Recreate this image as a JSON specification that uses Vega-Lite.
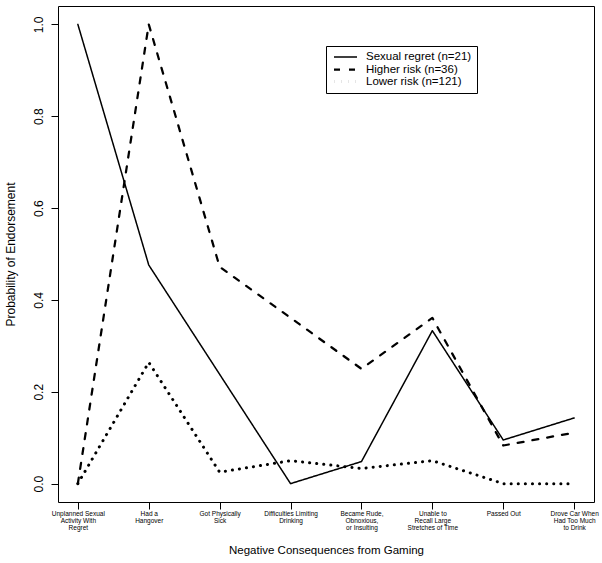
{
  "$schema": "https://vega.github.io/schema/vega-lite/v6.json",
  "width": 536,
  "height": 496,
  "autosize": "none",
  "padding": {"left": 58, "top": 6, "right": 8, "bottom": 61},
  "background": "white",
  "config": {
    "font": "Liberation Sans",
    "view": {"stroke": "black", "strokeWidth": 1}
  },
  "data": {
    "values": [
      {"item": "Unplanned Sexual|Activity With|Regret", "group": "Sexual regret (n=21)", "p": 1.0},
      {"item": "Had a|Hangover", "group": "Sexual regret (n=21)", "p": 0.476},
      {"item": "Got Physically|Sick", "group": "Sexual regret (n=21)", "p": 0.238},
      {"item": "Difficulties Limiting|Drinking", "group": "Sexual regret (n=21)", "p": 0.0},
      {"item": "Became Rude,|Obnoxious,|or Insulting", "group": "Sexual regret (n=21)", "p": 0.048},
      {"item": "Unable to|Recall Large|Stretches of Time", "group": "Sexual regret (n=21)", "p": 0.333},
      {"item": "Passed Out", "group": "Sexual regret (n=21)", "p": 0.095},
      {"item": "Drove Car When|Had Too Much|to Drink", "group": "Sexual regret (n=21)", "p": 0.143},
      {"item": "Unplanned Sexual|Activity With|Regret", "group": "Higher risk (n=36)", "p": 0.0},
      {"item": "Had a|Hangover", "group": "Higher risk (n=36)", "p": 1.0},
      {"item": "Got Physically|Sick", "group": "Higher risk (n=36)", "p": 0.472},
      {"item": "Difficulties Limiting|Drinking", "group": "Higher risk (n=36)", "p": 0.361},
      {"item": "Became Rude,|Obnoxious,|or Insulting", "group": "Higher risk (n=36)", "p": 0.25},
      {"item": "Unable to|Recall Large|Stretches of Time", "group": "Higher risk (n=36)", "p": 0.361},
      {"item": "Passed Out", "group": "Higher risk (n=36)", "p": 0.083},
      {"item": "Drove Car When|Had Too Much|to Drink", "group": "Higher risk (n=36)", "p": 0.111},
      {"item": "Unplanned Sexual|Activity With|Regret", "group": "Lower risk (n=121)", "p": 0.0},
      {"item": "Had a|Hangover", "group": "Lower risk (n=121)", "p": 0.264},
      {"item": "Got Physically|Sick", "group": "Lower risk (n=121)", "p": 0.025},
      {"item": "Difficulties Limiting|Drinking", "group": "Lower risk (n=121)", "p": 0.05},
      {"item": "Became Rude,|Obnoxious,|or Insulting", "group": "Lower risk (n=121)", "p": 0.033},
      {"item": "Unable to|Recall Large|Stretches of Time", "group": "Lower risk (n=121)", "p": 0.05},
      {"item": "Passed Out", "group": "Lower risk (n=121)", "p": 0.0},
      {"item": "Drove Car When|Had Too Much|to Drink", "group": "Lower risk (n=121)", "p": 0.0}
    ]
  },
  "mark": {"type": "line", "color": "black", "strokeCap": "round", "strokeJoin": "round"},
  "encoding": {
    "x": {
      "field": "item",
      "type": "nominal",
      "scale": {
        "type": "point",
        "padding": 0.28,
        "domain": [
          "Unplanned Sexual|Activity With|Regret",
          "Had a|Hangover",
          "Got Physically|Sick",
          "Difficulties Limiting|Drinking",
          "Became Rude,|Obnoxious,|or Insulting",
          "Unable to|Recall Large|Stretches of Time",
          "Passed Out",
          "Drove Car When|Had Too Much|to Drink"
        ]
      },
      "axis": {
        "title": "Negative Consequences from Gaming",
        "titleFontSize": 11.5,
        "titleFontWeight": "normal",
        "titleColor": "black",
        "titlePadding": 14,
        "labelExpr": "split(datum.label, '|')",
        "labelAngle": 0,
        "labelFontSize": 6.5,
        "labelLineHeight": 7,
        "labelColor": "black",
        "labelPadding": 1,
        "tickSize": 7,
        "tickColor": "black",
        "domain": false,
        "grid": false
      }
    },
    "y": {
      "field": "p",
      "type": "quantitative",
      "scale": {"domain": [-0.04, 1.04], "nice": false, "zero": false},
      "axis": {
        "title": "Probability of Endorsement",
        "titleFontSize": 12,
        "titleFontWeight": "normal",
        "titleColor": "black",
        "titlePadding": 15,
        "values": [0, 0.2, 0.4, 0.6, 0.8, 1.0],
        "format": ".1f",
        "labelAngle": -90,
        "labelAlign": "center",
        "labelBaseline": "bottom",
        "labelFontSize": 12,
        "labelColor": "black",
        "labelPadding": 6,
        "tickSize": 7,
        "tickColor": "black",
        "domain": false,
        "grid": false
      }
    },
    "strokeDash": {
      "field": "group",
      "type": "nominal",
      "scale": {
        "domain": ["Sexual regret (n=21)", "Higher risk (n=36)", "Lower risk (n=121)"],
        "range": [[1, 0], [6, 9], [0.1, 7]]
      },
      "legend": {
        "title": null,
        "orient": "none",
        "legendX": 268,
        "legendY": 40,
        "strokeColor": "black",
        "padding": 5,
        "labelFontSize": 11.5,
        "labelColor": "black",
        "symbolType": "M-2.3,0H2.3",
        "symbolSize": 100,
        "symbolStrokeColor": "black",
        "symbolStrokeWidth": 2,
        "symbolOffset": 8,
        "rowPadding": 0,
        "labelOffset": 14
      }
    },
    "strokeWidth": {
      "field": "group",
      "type": "nominal",
      "scale": {
        "domain": ["Sexual regret (n=21)", "Higher risk (n=36)", "Lower risk (n=121)"],
        "range": [1.5, 3, 2]
      },
      "legend": null
    }
  }
}
